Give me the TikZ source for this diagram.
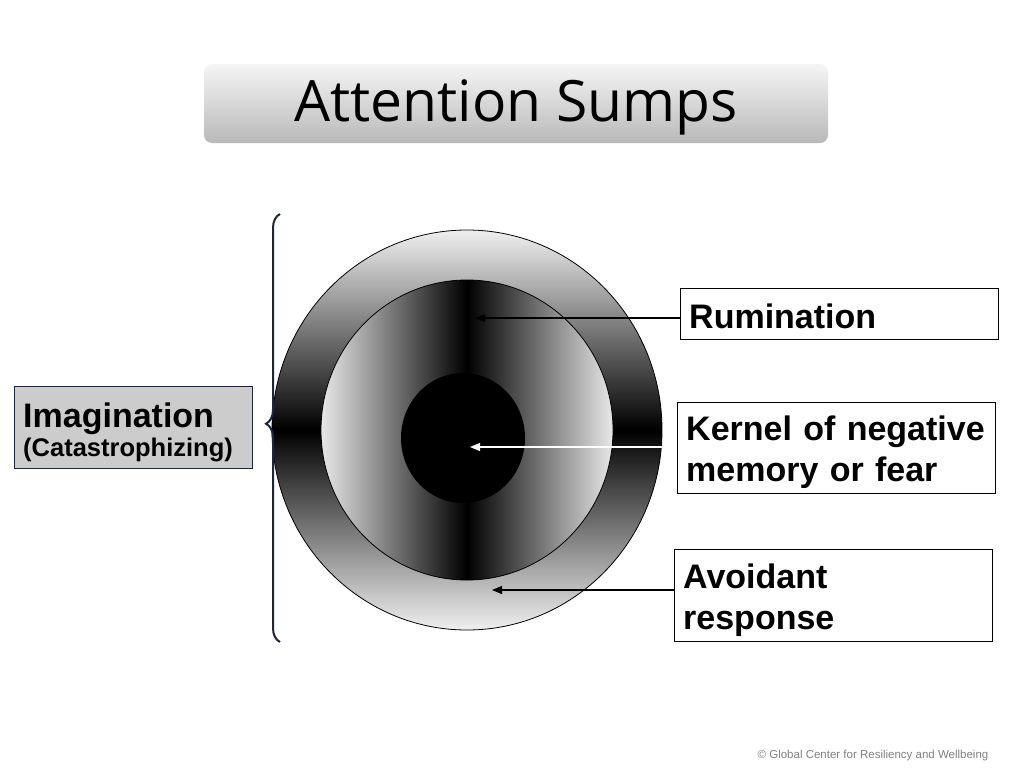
\documentclass[tikz,border=0pt]{standalone}
\usepackage{fontspec}
\setmainfont{Liberation Sans}
\newfontfamily\titlefont{Open Sans}
\usetikzlibrary{decorations.pathreplacing,arrows.meta}
\definecolor{navy}{HTML}{1F2440}
\tikzset{
  box/.style={draw=black, line width=1.2pt, fill=white, minimum width=318pt, anchor=north west},
  txt/.style={anchor=west, text width=300pt, align=left, font=\bfseries\fontsize{34}{41}\selectfont, inner xsep=9pt},
  ptr/.style={line width=1.2pt, -{Triangle[length=10pt,width=8pt]}}
}
\begin{document}
\begin{tikzpicture}[x=1pt,y=-1pt]
\useasboundingbox (0,0) rectangle (1024,768);
\fill[white] (0,0) rectangle (1024,768);
% title
\shade[rounded corners=8pt, top color=gray!8, bottom color=gray!55] (204,64) rectangle (828,143);
\node (title) at (516,107) {\titlefont\fontsize{57}{66}\selectfont Attention Sumps};
% circles
\shade[top color=gray!12, bottom color=gray!12, middle color=black, draw=black, line width=0.8pt] (467,430) ellipse [x radius=195, y radius=200];
\shade[left color=gray!18, right color=gray!18, middle color=black, draw=black, line width=0.8pt] (467,430) ellipse [x radius=146, y radius=150];
\fill[black] (463,438) ellipse [x radius=62, y radius=65];
\coordinate (c1) at (475,318);
\coordinate (c2) at (470,447);
\coordinate (c3) at (492,590);
% boxes
\node[box, minimum height=51pt] (rum) at (680,288) {};
\node[txt] (rumt) at ([yshift=-2pt]rum.west) {Rumination};
\node[box, minimum height=91pt] (ker) at (677,402) {};
\node[txt] (kert) at ([yshift=-4pt]ker.west) {Kernel of negative\\memory or fear};
\node[box, minimum height=92pt] (avo) at (674,549) {};
\node[txt] (avot) at ([yshift=-5pt]avo.west) {Avoidant\\response};
\draw[ptr] (rum.west |- c1) -- (c1);
\draw[ptr, white] (ker.west |- c2) -- (c2);
\draw[ptr] (avo.west |- c3) -- (c3);
% imagination
\node[draw=navy, line width=1pt, fill=gray!40, anchor=north west, minimum width=238pt, minimum height=82pt] (img) at (14,386) {};
\node[anchor=west, text width=228pt, align=left, inner xsep=9pt] (imgt) at ([yshift=-5pt]img.west)
 {{\bfseries\fontsize{34}{36}\selectfont Imagination}\\[3pt]{\bfseries\fontsize{25.5}{30}\selectfont (Catastrophizing)}};
\coordinate (bt) at (280,214);
\coordinate (bb) at (280,642);
\draw[navy, line width=2pt, decorate, decoration={brace, amplitude=14pt, aspect=0.51}] (bb) -- (bt);
\node[text=gray, font=\fontsize{11.5}{13}\selectfont] (foot) at (873,756) {© Global Center for Resiliency and Wellbeing};
\end{tikzpicture}
\end{document}
